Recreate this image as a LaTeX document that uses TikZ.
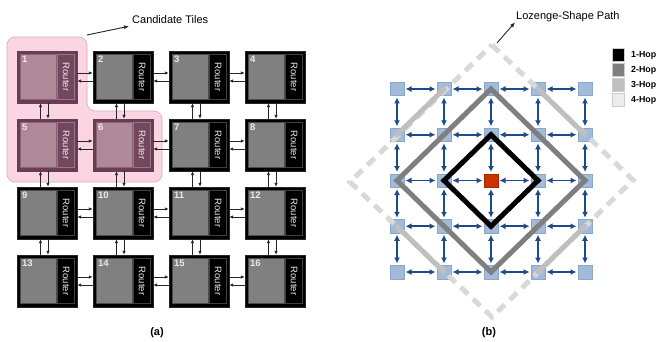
\documentclass[tikz,border=0pt]{standalone}
\usepackage{fontspec}
\setmainfont{Liberation Sans}
\usetikzlibrary{arrows.meta,calc}
\definecolor{pinkbg}{HTML}{FBD6E2}
\definecolor{pinkln}{HTML}{D9A9B9}
\definecolor{candout}{HTML}{6A3D54}
\definecolor{candin}{HTML}{B08999}
\definecolor{candrt}{HTML}{74475E}
\definecolor{tilegray}{HTML}{808080}
\definecolor{sqfill}{HTML}{A2BBDB}
\definecolor{sqline}{HTML}{8CA6CA}
\definecolor{arrblue}{HTML}{1E4B87}
\definecolor{centred}{HTML}{CC3300}
\definecolor{hopone}{HTML}{000000}
\definecolor{hoptwo}{HTML}{7F7F7F}
\definecolor{hopthree}{HTML}{BFBFBF}
\definecolor{hopfour}{HTML}{D9D9D9}
\definecolor{legfour}{HTML}{ECECEC}
\tikzset{
  tileouter/.style={rectangle, minimum width=60pt, minimum height=52pt, inner sep=0pt},
  outer-n/.style={fill=black, draw=black!85},
  outer-c/.style={fill=candout, draw=candout},
  tileinner/.style={rectangle, minimum width=36pt, minimum height=45pt, inner sep=0pt, anchor=north west},
  inner-n/.style={fill=tilegray, draw=black!70, line width=0.4pt},
  inner-c/.style={fill=candin, draw=candout!80, line width=0.4pt},
  rtbox/.style={rectangle, minimum width=17pt, minimum height=45pt, inner sep=0pt, anchor=north west, line width=0.5pt},
  rt-n/.style={fill=black, draw=black!75!white},
  rt-c/.style={fill=candrt, draw=candout!70!white},
  routertxt/.style={text=white!92!black, font=\fontsize{9.5}{9.5}\selectfont, inner sep=0pt, rotate=-90},
  numtxt/.style={text=white!92!black, font=\fontsize{9.5}{9.5}\selectfont\bfseries, inner sep=0pt, anchor=north west},
  tarrow/.style={-{Latex[length=4pt,width=3.5pt]}, line width=0.8pt, draw=black!85},
  gsq/.style={rectangle, minimum size=13.5pt, inner sep=0pt, fill=sqfill, draw=sqline, line width=0.5pt},
  barrow/.style={{Latex[length=6pt,width=6pt]}-{Latex[length=6pt,width=6pt]}, line width=1.8pt, draw=arrblue, shorten <=1.5pt, shorten >=1.5pt},
  hopline/.style={line width=5pt},
  legsq/.style={rectangle, minimum size=12.5pt, inner sep=0pt, draw=black!20, line width=0.5pt},
  legtxt/.style={font=\fontsize{8.8}{9}\selectfont\bfseries, anchor=west, inner sep=0pt},
  captxt/.style={font=\fontsize{11}{12}\selectfont, inner sep=1pt},
  subcap/.style={font=\fontsize{11}{12}\selectfont\bfseries, inner sep=1pt},
}
\begin{document}
\begin{tikzpicture}[x=1pt,y=-1pt]
\useasboundingbox[fill=white] (0,0) rectangle (660,342);

% ---------------- panel (a) ----------------
\path[fill=pinkbg, draw=pinkln, line width=0.6pt, rounded corners=8pt]
  (7,37) -- (87,37) -- (87,111) -- (162,111) -- (162,182) -- (7,182) -- cycle;

\foreach \n/\c/\r/\k in {1/0/0/c,2/1/0/n,3/2/0/n,4/3/0/n,
                         5/0/1/c,6/1/1/c,7/2/1/n,8/3/1/n,
                         9/0/2/n,10/1/2/n,11/2/2/n,12/3/2/n,
                         13/0/3/n,14/1/3/n,15/2/3/n,16/3/3/n} {
  \node[tileouter, outer-\k] (t\n) at ({47+76*\c},{77+68*\r}) {};
  \node[tileinner, inner-\k] (i\n) at ($(t\n.north west)+(3,3.5)$) {};
  \node[rtbox, rt-\k] (b\n) at ($(t\n.north west)+(40.5,3.5)$) {};
  \node[routertxt] (r\n) at (b\n.center) {Router};
  \node[numtxt] (n\n) at ($(t\n.north west)+(5,5)$) {\n};
}

% horizontal links
\foreach \a/\b in {1/2,2/3,3/4,5/6,6/7,7/8,9/10,10/11,11/12,13/14,14/15,15/16} {
  \draw[tarrow] ($(t\a.east)+(0,-4)$) -- ($(t\b.west)+(0,-4)$);
  \draw[tarrow] ($(t\b.west)+(0,4)$) -- ($(t\a.east)+(0,4)$);
}
% vertical links
\foreach \a/\b in {1/5,2/6,3/7,4/8,5/9,6/10,7/11,8/12,9/13,10/14,11/15,12/16} {
  \draw[tarrow] ($(t\b.north)+(-6.5,0)$) -- ($(t\a.south)+(-6.5,0)$);
  \draw[tarrow] ($(t\a.south)+(1,0)$) -- ($(t\b.north)+(1,0)$);
}

\node[captxt, anchor=west] (cand) at (131,20) {Candidate Tiles};
\coordinate (candfoot) at (87,35);
\draw[-{Latex[length=5pt,width=4pt]}, line width=0.9pt, black!85] (candfoot) -- ($(cand.south west)+(-2,1)$);

\node[subcap] (capa) at (157,333) {(a)};

% ---------------- panel (b) ----------------
\foreach \c in {0,...,4} {
  \foreach \r in {0,...,4} {
    \node[gsq] (g\c\r) at ({397+47*\c},{89+45.75*\r}) {};
  }
}
\foreach \c in {0,...,3} {
  \pgfmathtruncatemacro\cn{\c+1}
  \foreach \r in {0,...,4} {
    \draw[barrow] (g\c\r) -- (g\cn\r);
  }
}
\foreach \r in {0,...,3} {
  \pgfmathtruncatemacro\rn{\r+1}
  \foreach \c in {0,...,4} {
    \draw[barrow] (g\c\r) -- (g\c\rn);
  }
}

% 4-hop dashed lozenge
\coordinate (lzt) at (492,45);
\coordinate (lzl) at (350,182);
\coordinate (lzb) at (492,317);
\coordinate (lzr) at (633,180);
\draw[hopline, hopfour, dash pattern=on 10pt off 7pt] (lzt) -- (lzr) -- (lzb) -- (lzl) -- cycle;

% 3-hop segments
\draw[hopline, hopthree, line cap=round] (g01.center) -- (g10.center);
\draw[hopline, hopthree, line cap=round] (g30.center) -- (g41.center);
\draw[hopline, hopthree, line cap=round] (g03.center) -- (g14.center);
\draw[hopline, hopthree, line cap=round] (g43.center) -- (g34.center);

% 2-hop
\draw[hopline, hoptwo] (g02.center) -- (g20.center) -- (g42.center) -- (g24.center) -- cycle;
% 1-hop
\draw[hopline, hopone] (g12.center) -- (g21.center) -- (g32.center) -- (g23.center) -- cycle;

\node[gsq, fill=centred, draw=centred!80!black] (gc) at (g22) {};

\node[captxt, anchor=west] (lz) at (515,17) {Lozenge-Shape Path};
\coordinate (lzfoot) at (497,43);
\draw[-{Latex[length=5pt,width=4pt]}, line width=0.9pt, black!85] (lzfoot) -- ($(lz.south west)+(0,-1)$);

% legend
\node[legsq, fill=hopone] (l1) at (618,55) {};
\node[legsq, fill=hoptwo] (l2) at (618,70) {};
\node[legsq, fill=hopthree] (l3) at (618,85) {};
\node[legsq, fill=legfour] (l4) at (618,100) {};
\node[legtxt] (lt1) at (631,55) {1-Hop};
\node[legtxt] (lt2) at (631,70) {2-Hop};
\node[legtxt] (lt3) at (631,85) {3-Hop};
\node[legtxt] (lt4) at (631,100) {4-Hop};

\node[subcap] (capb) at (489,333) {(b)};
\end{tikzpicture}
\end{document}
